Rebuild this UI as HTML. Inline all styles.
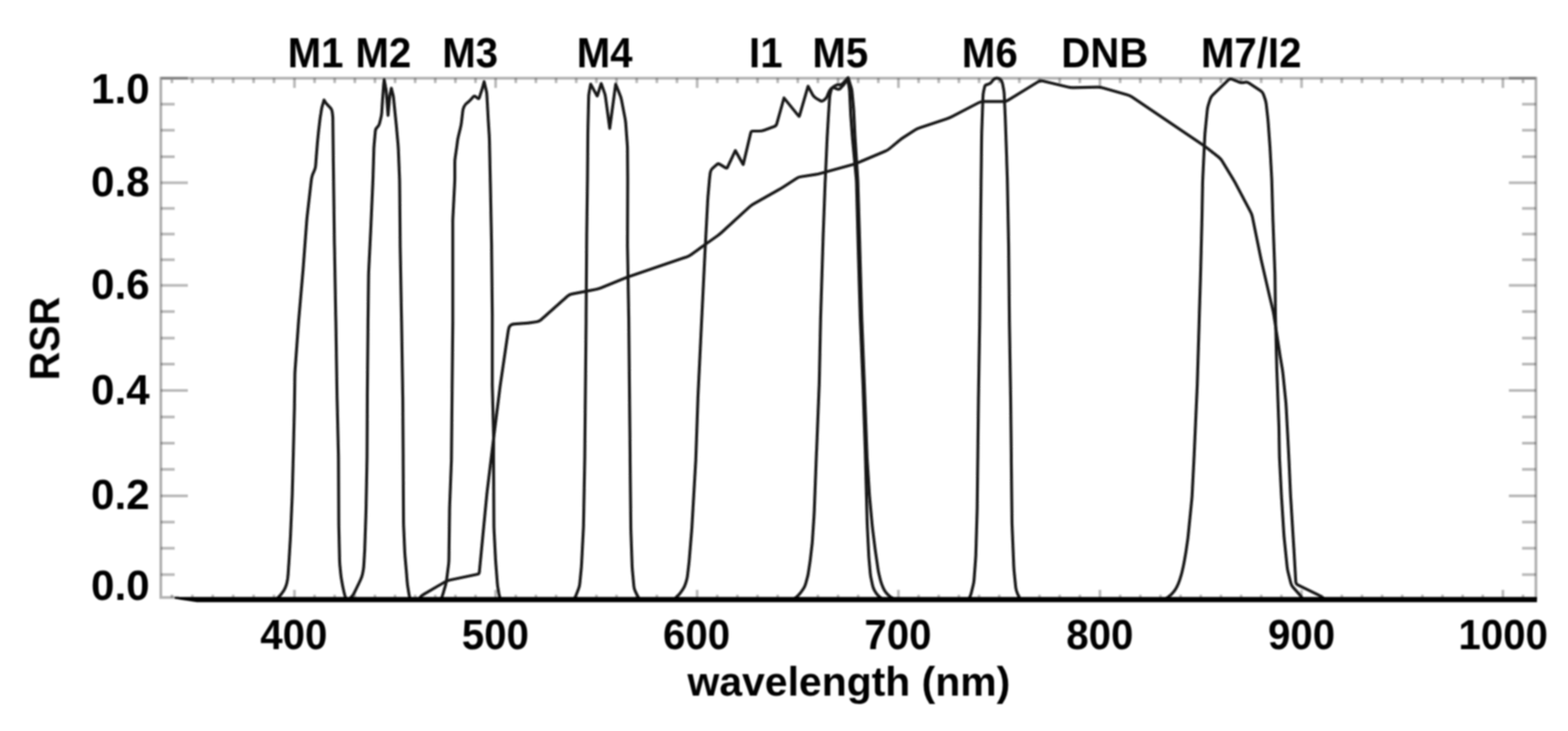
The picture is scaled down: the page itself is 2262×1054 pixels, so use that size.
<!DOCTYPE html>
<html lang="en"><head><meta charset="utf-8"><title>RSR</title>
<style>
html,body{margin:0;padding:0;background:#fff;}
body{width:2262px;height:1054px;overflow:hidden;}
svg{display:block;}
text{font-family:"Liberation Sans","DejaVu Sans",sans-serif;font-weight:bold;font-size:58px;fill:#000;}
.c{fill:none;stroke:#141414;stroke-width:4.2;stroke-linejoin:round;stroke-linecap:round;}
.f{fill:none;stroke:rgba(0,0,0,0.30);stroke-width:4;}
.t{fill:none;stroke:rgba(0,0,0,0.27);stroke-width:4;}
.b{fill:none;stroke:#000;stroke-width:7.4;}
</style></head><body>
<svg width="2262" height="1054" viewBox="0 0 2262 1054">
<defs><filter id="bl" x="-2%" y="-2%" width="104%" height="104%" filterUnits="userSpaceOnUse" primitiveUnits="userSpaceOnUse"><feGaussianBlur stdDeviation="1.3"/></filter></defs>
<rect width="2262" height="1054" fill="#fff"/>
<g filter="url(#bl)">
<path class="f" d="M258.0 861.5 H232.0 V112.8 H2215.7 V864.5"/>
<path class="t" d="M248.0 112.8 v7.0 M248.0 861.5 v-4.0 M277.5 112.8 v7.0 M277.5 861.5 v-4.0 M306.9 112.8 v7.0 M306.9 861.5 v-4.0 M336.4 112.8 v7.0 M336.4 861.5 v-4.0 M365.9 112.8 v7.0 M365.9 861.5 v-4.0 M395.3 112.8 v7.0 M395.3 861.5 v-4.0 M424.8 112.8 v14.0 M424.8 861.5 v-11.0 M453.8 112.8 v7.0 M453.8 861.5 v-4.0 M482.8 112.8 v7.0 M482.8 861.5 v-4.0 M511.9 112.8 v7.0 M511.9 861.5 v-4.0 M540.9 112.8 v7.0 M540.9 861.5 v-4.0 M569.9 112.8 v7.0 M569.9 861.5 v-4.0 M598.9 112.8 v7.0 M598.9 861.5 v-4.0 M627.9 112.8 v7.0 M627.9 861.5 v-4.0 M657.0 112.8 v7.0 M657.0 861.5 v-4.0 M686.0 112.8 v7.0 M686.0 861.5 v-4.0 M715.0 112.8 v14.0 M715.0 861.5 v-11.0 M744.1 112.8 v7.0 M744.1 861.5 v-4.0 M773.1 112.8 v7.0 M773.1 861.5 v-4.0 M802.2 112.8 v7.0 M802.2 861.5 v-4.0 M831.3 112.8 v7.0 M831.3 861.5 v-4.0 M860.4 112.8 v7.0 M860.4 861.5 v-4.0 M889.4 112.8 v7.0 M889.4 861.5 v-4.0 M918.5 112.8 v7.0 M918.5 861.5 v-4.0 M947.6 112.8 v7.0 M947.6 861.5 v-4.0 M976.6 112.8 v7.0 M976.6 861.5 v-4.0 M1005.7 112.8 v14.0 M1005.7 861.5 v-11.0 M1034.7 112.8 v7.0 M1034.7 861.5 v-4.0 M1063.8 112.8 v7.0 M1063.8 861.5 v-4.0 M1092.8 112.8 v7.0 M1092.8 861.5 v-4.0 M1121.9 112.8 v7.0 M1121.9 861.5 v-4.0 M1150.9 112.8 v7.0 M1150.9 861.5 v-4.0 M1179.9 112.8 v7.0 M1179.9 861.5 v-4.0 M1209.0 112.8 v7.0 M1209.0 861.5 v-4.0 M1238.0 112.8 v7.0 M1238.0 861.5 v-4.0 M1267.1 112.8 v7.0 M1267.1 861.5 v-4.0 M1296.1 112.8 v14.0 M1296.1 861.5 v-11.0 M1325.2 112.8 v7.0 M1325.2 861.5 v-4.0 M1354.2 112.8 v7.0 M1354.2 861.5 v-4.0 M1383.3 112.8 v7.0 M1383.3 861.5 v-4.0 M1412.4 112.8 v7.0 M1412.4 861.5 v-4.0 M1441.5 112.8 v7.0 M1441.5 861.5 v-4.0 M1470.5 112.8 v7.0 M1470.5 861.5 v-4.0 M1499.6 112.8 v7.0 M1499.6 861.5 v-4.0 M1528.7 112.8 v7.0 M1528.7 861.5 v-4.0 M1557.8 112.8 v7.0 M1557.8 861.5 v-4.0 M1586.8 112.8 v14.0 M1586.8 861.5 v-11.0 M1615.9 112.8 v7.0 M1615.9 861.5 v-4.0 M1645.0 112.8 v7.0 M1645.0 861.5 v-4.0 M1674.1 112.8 v7.0 M1674.1 861.5 v-4.0 M1703.1 112.8 v7.0 M1703.1 861.5 v-4.0 M1732.2 112.8 v7.0 M1732.2 861.5 v-4.0 M1761.3 112.8 v7.0 M1761.3 861.5 v-4.0 M1790.4 112.8 v7.0 M1790.4 861.5 v-4.0 M1819.4 112.8 v7.0 M1819.4 861.5 v-4.0 M1848.5 112.8 v7.0 M1848.5 861.5 v-4.0 M1877.6 112.8 v14.0 M1877.6 861.5 v-11.0 M1906.6 112.8 v7.0 M1906.6 861.5 v-4.0 M1935.7 112.8 v7.0 M1935.7 861.5 v-4.0 M1964.8 112.8 v7.0 M1964.8 861.5 v-4.0 M1993.8 112.8 v7.0 M1993.8 861.5 v-4.0 M2022.8 112.8 v7.0 M2022.8 861.5 v-4.0 M2051.9 112.8 v7.0 M2051.9 861.5 v-4.0 M2080.9 112.8 v7.0 M2080.9 861.5 v-4.0 M2110.0 112.8 v7.0 M2110.0 861.5 v-4.0 M2139.0 112.8 v7.0 M2139.0 861.5 v-4.0 M2168.1 112.8 v14.0 M2168.1 861.5 v-11.0 M2197.1 112.8 v7.0 M2197.1 861.5 v-4.0 M232.0 112.8 h39.0 M2215.7 112.8 h-39.0 M232.0 150.3 h20.0 M2215.7 150.3 h-20.0 M232.0 187.8 h20.0 M2215.7 187.8 h-20.0 M232.0 226.1 h20.0 M2215.7 226.1 h-20.0 M232.0 263.5 h39.0 M2215.7 263.5 h-39.0 M232.0 300.5 h20.0 M2215.7 300.5 h-20.0 M232.0 337.5 h20.0 M2215.7 337.5 h-20.0 M232.0 374.4 h20.0 M2215.7 374.4 h-20.0 M232.0 411.4 h39.0 M2215.7 411.4 h-39.0 M232.0 449.3 h20.0 M2215.7 449.3 h-20.0 M232.0 487.5 h20.0 M2215.7 487.5 h-20.0 M232.0 525.1 h20.0 M2215.7 525.1 h-20.0 M232.0 563.0 h39.0 M2215.7 563.0 h-39.0 M232.0 601.2 h20.0 M2215.7 601.2 h-20.0 M232.0 638.9 h20.0 M2215.7 638.9 h-20.0 M232.0 676.7 h20.0 M2215.7 676.7 h-20.0 M232.0 715.1 h39.0 M2215.7 715.1 h-39.0 M232.0 752.7 h20.0 M2215.7 752.7 h-20.0 M232.0 790.4 h20.0 M2215.7 790.4 h-20.0 M232.0 828.4 h20.0 M2215.7 828.4 h-20.0"/>
<path class="c" d="M398.0 864.5 L400.0 862.8 Q402.0 861.0 404.2 858.5 L404.2 858.5 Q406.5 856.0 408.6 852.7 L408.9 852.3 Q411.0 849.0 412.4 845.3 L412.6 844.7 Q414.0 841.0 414.5 837.1 L415.0 834.0 Q415.5 830.0 415.8 826.0 L416.2 819.0 Q416.5 815.0 416.8 811.0 L417.2 804.0 Q417.5 800.0 417.7 796.0 L418.8 778.0 Q419.0 774.0 419.2 770.0 L421.3 721.0 Q421.5 717.0 421.6 713.0 L422.9 664.0 Q423.0 660.0 423.1 656.0 L424.5 597.0 Q424.6 593.0 424.7 589.0 L425.4 540.0 Q425.5 536.0 425.8 532.0 L430.7 464.0 Q431.0 460.0 431.4 456.0 L436.5 397.0 Q436.9 393.0 437.2 389.0 L442.3 321.0 Q442.6 317.0 443.0 313.0 L448.6 264.0 Q449.0 260.0 449.7 256.1 L449.8 255.9 Q450.5 252.0 452.3 248.5 L453.3 246.4 Q455.0 243.0 455.3 239.2 L455.7 234.0 Q456.0 230.0 456.3 226.0 L457.6 209.9 Q457.9 205.9 458.3 201.9 L459.4 190.9 Q459.8 186.9 460.3 182.9 L461.6 172.0 Q462.1 168.0 462.8 164.1 L463.8 157.6 Q464.5 153.7 465.8 150.0 L467.4 144.2 L469.8 148.2 Q472.1 150.9 474.9 153.7 L476.2 155.0 Q478.7 157.5 479.2 161.1 L479.6 164.1 Q480.2 168.0 480.2 172.0 L480.8 227.0 Q480.8 231.0 480.9 235.0 L482.4 351.0 Q482.5 355.0 482.6 359.0 L484.3 455.0 Q484.4 459.0 484.5 463.0 L486.2 570.0 Q486.3 574.0 486.4 578.0 L488.2 656.0 Q488.3 660.0 488.3 664.0 L488.7 751.0 Q488.7 755.0 488.8 759.0 L489.9 808.0 Q490.0 812.0 490.4 816.0 L491.6 828.0 Q492.0 832.0 492.7 835.9 L493.8 842.1 Q494.5 846.0 495.4 849.9 L496.1 853.1 Q497.0 857.0 498.2 860.8 L499.5 864.5"/>
<path class="c" d="M503.0 864.5 L506.2 861.6 Q509.0 859.0 510.7 855.5 L514.8 847.1 Q516.6 843.5 518.3 839.9 L520.7 834.6 Q522.3 831.0 523.1 827.1 L523.7 823.9 Q524.5 820.0 524.8 816.0 L525.8 799.0 Q526.1 795.0 526.2 791.0 L527.9 740.0 Q528.0 736.0 528.1 732.0 L529.4 664.0 Q529.5 660.0 529.5 656.0 L529.9 578.0 Q529.9 574.0 529.9 570.0 L530.9 464.0 Q530.9 460.0 531.0 456.0 L531.7 397.0 Q531.8 393.0 532.0 389.0 L534.4 340.0 Q534.6 336.0 534.8 332.0 L537.8 264.0 Q538.0 260.0 538.1 256.0 L539.3 216.0 Q539.4 212.0 539.8 208.0 L541.5 188.8 Q541.8 185.4 544.2 183.5 L544.2 183.5 Q546.6 181.6 547.5 178.1 L549.4 170.2 Q550.4 166.4 550.7 162.4 L552.0 142.0 Q552.3 138.0 552.6 134.0 L553.4 123.0 Q553.7 119.0 554.0 117.5 L554.2 114.8 L556.1 124.6 Q557.0 128.5 557.3 132.5 L559.8 166.4 Q559.8 166.4 559.8 166.4 L561.9 142.0 Q562.2 138.0 563.2 134.1 L564.6 127.2 L566.3 134.2 Q567.4 138.0 567.8 141.9 L568.9 153.0 Q569.3 157.0 569.7 161.0 L571.8 181.4 Q572.2 185.4 572.5 189.4 L574.2 208.0 Q574.5 212.0 574.7 216.0 L576.3 256.0 Q576.5 260.0 576.5 264.0 L577.3 351.0 Q577.3 355.0 577.4 359.0 L579.1 455.0 Q579.2 459.0 579.3 463.0 L581.0 570.0 Q581.1 574.0 581.1 578.0 L581.6 656.0 Q581.6 660.0 581.6 664.0 L582.1 751.0 Q582.1 755.0 582.3 759.0 L583.8 794.0 Q584.0 798.0 584.3 802.0 L586.5 827.0 Q586.8 831.0 587.1 835.0 L587.5 839.5 Q587.8 843.5 588.5 847.4 L589.9 856.1 Q590.6 860.0 591.3 862.2 L592.0 864.5"/>
<path class="c" d="M636.0 864.5 L637.0 862.2 Q638.0 860.0 639.1 856.2 L642.7 843.8 Q643.8 840.0 644.3 836.1 L647.1 814.0 Q647.6 810.0 647.6 806.0 L648.5 740.0 Q648.5 736.0 648.6 732.0 L651.2 664.0 Q651.3 660.0 651.3 656.0 L653.2 464.0 Q653.2 460.0 653.2 456.0 L653.2 321.0 Q653.2 317.0 653.4 313.0 L655.9 264.0 Q656.1 260.0 656.1 256.0 L656.1 235.0 Q656.1 231.0 656.7 227.1 L658.3 216.0 Q658.9 212.0 659.4 208.0 L659.9 204.0 Q660.4 200.0 661.4 196.1 L664.2 184.5 Q665.2 180.6 665.7 176.6 L667.5 160.9 Q668.0 157.0 669.5 153.7 L669.5 153.7 Q670.9 150.3 673.7 148.4 L673.7 148.4 Q676.5 146.5 679.1 143.6 L682.6 139.7 Q684.1 138.0 685.9 139.3 L689.6 141.9 Q690.8 142.7 691.3 141.3 L693.3 135.1 Q694.6 131.3 695.8 127.5 L698.4 117.7 L701.2 129.4 Q702.2 133.2 702.4 137.2 L703.8 162.4 Q704.0 166.4 704.2 170.4 L705.8 196.0 Q706.0 200.0 706.1 204.0 L707.2 256.0 Q707.3 260.0 707.4 264.0 L709.1 351.0 Q709.2 355.0 709.2 359.0 L710.2 455.0 Q710.2 459.0 710.2 463.0 L710.2 551.0 Q710.2 555.0 710.3 559.0 L712.0 627.0 Q712.1 631.0 712.1 635.0 L712.0 656.0 Q712.0 660.0 712.0 664.0 L712.5 756.0 Q712.5 760.0 712.7 764.0 L714.7 803.4 Q714.9 807.4 715.2 811.4 L717.5 841.4 Q717.8 845.4 718.6 849.3 L719.8 856.1 Q720.6 860.0 721.3 862.2 L722.0 864.5"/>
<path class="c" d="M604.0 864.5 L605.9 861.8 Q607.7 859.0 611.0 857.1 L630.8 845.5 Q634.3 843.5 637.8 841.5 L642.3 838.9 Q645.7 837.0 649.5 836.2 L688.7 828.0 Q691.2 827.5 691.5 824.9 L702.2 714.0 Q702.6 710.0 703.1 706.0 L711.6 636.0 Q712.1 632.0 712.6 628.0 L721.1 560.0 Q721.6 556.0 722.2 552.0 L732.9 478.9 Q733.5 475.0 734.2 472.6 L734.2 472.6 Q735.0 470.1 736.9 468.7 L736.9 468.7 Q738.8 467.3 742.5 467.1 L756.6 466.2 Q760.6 465.9 764.6 465.3 L774.1 464.0 Q777.7 463.5 780.4 461.1 L818.6 427.1 Q821.4 424.6 825.1 423.9 L842.1 420.6 Q846.0 419.8 849.9 419.1 L859.6 417.2 Q863.5 416.5 867.2 415.0 L901.5 401.0 Q905.2 399.5 909.0 398.2 L990.7 370.4 Q994.4 369.1 997.6 366.8 L1012.1 356.3 Q1015.3 353.9 1018.6 351.6 L1034.8 340.1 Q1038.1 337.8 1041.0 335.1 L1080.7 298.8 Q1083.6 296.1 1087.0 294.2 L1123.7 273.4 Q1127.2 271.4 1130.6 269.2 L1148.7 257.5 Q1151.9 255.4 1155.7 254.8 L1176.1 251.6 Q1180.0 251.0 1183.8 249.9 L1229.3 237.5 Q1233.1 236.5 1236.8 235.0 L1277.0 218.0 Q1280.6 216.5 1283.6 214.0 L1297.3 202.6 Q1300.4 200.0 1303.8 197.9 L1319.9 187.5 Q1323.2 185.4 1326.9 184.2 L1366.0 171.2 Q1369.8 170.0 1373.3 168.2 L1412.0 148.0 Q1415.3 146.3 1419.1 146.3 L1447.6 146.3 Q1451.3 146.3 1454.5 144.4 L1497.8 117.8 Q1500.7 116.0 1504.0 116.8 L1540.7 125.5 Q1544.5 126.4 1548.4 126.3 L1582.5 125.6 Q1586.4 125.5 1590.2 126.6 L1626.3 136.7 Q1630.1 137.8 1633.3 140.0 L1734.9 208.7 Q1738.2 210.9 1741.3 213.4 L1758.0 226.5 Q1761.0 228.9 1763.0 232.2 L1777.9 256.6 Q1780.0 260.0 1781.9 263.5 L1804.2 305.8 Q1806.0 309.3 1806.8 313.1 L1818.4 370.0 Q1819.2 373.9 1820.1 377.8 L1830.1 421.1 Q1831.0 425.0 1831.9 428.9 L1836.1 446.2 Q1837.0 450.1 1837.6 454.0 L1845.5 505.3 Q1846.1 509.3 1846.7 513.2 L1850.0 532.8 Q1850.6 536.7 1851.0 540.7 L1854.8 578.2 Q1855.2 582.2 1855.4 586.2 L1858.1 636.0 Q1858.3 640.0 1858.5 644.0 L1859.1 656.0 Q1859.3 660.0 1859.5 664.0 L1861.7 713.0 Q1861.9 717.0 1862.2 721.0 L1866.4 789.0 Q1866.7 793.0 1866.9 797.0 L1869.3 839.0 Q1869.5 842.0 1872.2 843.3 L1901.0 857.3 Q1904.6 859.0 1907.8 861.4 L1912.0 864.5"/>
<path class="c" d="M828.0 864.5 L829.1 862.2 Q830.3 860.0 831.8 856.3 L834.6 849.1 Q836.0 845.4 836.4 841.5 L838.4 821.0 Q838.8 817.0 839.0 813.0 L841.5 764.0 Q841.7 760.0 841.8 756.0 L843.5 664.0 Q843.6 660.0 843.6 656.0 L845.5 464.0 Q845.5 460.0 845.5 456.0 L846.4 340.0 Q846.4 336.0 846.5 332.0 L847.4 264.0 Q847.5 260.0 847.5 256.0 L848.0 197.0 Q848.0 193.0 848.1 189.0 L849.2 140.0 Q849.3 136.0 850.1 132.1 L852.1 121.3 L861.2 138.1 Q861.6 138.7 861.8 138.0 L867.3 120.4 L871.5 132.3 Q873.0 136.0 873.5 139.9 L879.6 185.1 Q879.6 185.2 879.6 185.1 L888.2 121.3 L894.1 136.1 Q895.7 139.7 896.5 143.6 L901.6 170.1 Q902.4 174.0 902.7 178.0 L904.9 208.0 Q905.2 212.0 905.2 216.0 L905.5 256.0 Q905.5 260.0 905.5 264.0 L905.2 351.0 Q905.2 355.0 905.3 359.0 L907.0 456.0 Q907.1 460.0 907.1 464.0 L909.0 656.0 Q909.0 660.0 909.0 664.0 L910.0 756.0 Q910.0 760.0 910.1 764.0 L911.8 813.0 Q911.9 817.0 912.2 821.0 L914.4 845.1 Q914.7 849.0 916.4 852.5 L918.6 857.0 Q920.4 860.6 921.7 862.5 L923.0 864.5"/>
<path class="c" d="M972.0 864.5 L974.6 862.2 Q977.3 860.0 979.8 856.9 L980.5 856.1 Q983.0 853.0 985.1 849.6 L985.9 848.3 Q988.0 845.0 989.1 841.2 L990.4 836.8 Q991.5 833.0 991.9 829.1 L994.0 811.0 Q994.4 807.0 994.7 803.0 L997.9 764.0 Q998.2 760.0 998.4 756.0 L1003.7 664.0 Q1003.9 660.0 1004.0 656.0 L1006.7 578.0 Q1006.8 574.0 1007.0 570.0 L1012.1 464.0 Q1012.3 460.0 1012.5 456.0 L1016.8 368.0 Q1017.0 364.0 1017.2 360.0 L1020.8 292.0 Q1021.0 288.0 1021.3 284.0 L1023.2 262.0 Q1023.5 258.0 1024.0 254.0 L1024.7 248.5 Q1025.2 245.0 1027.8 242.7 L1034.2 237.2 Q1036.2 235.5 1038.4 236.9 L1047.0 242.1 Q1048.5 243.1 1049.3 241.5 L1060.8 217.1 L1071.9 236.9 Q1072.2 237.4 1072.3 236.8 L1083.0 191.4 Q1083.6 189.0 1086.1 189.0 L1094.9 189.0 Q1098.8 189.0 1102.4 187.7 L1116.7 182.5 Q1119.7 181.4 1120.6 178.3 L1131.0 141.2 L1152.3 167.5 Q1152.9 168.2 1153.2 167.3 L1165.7 124.3 L1172.3 136.6 Q1174.2 139.8 1177.4 141.7 L1183.2 145.1 Q1185.6 146.5 1187.9 144.9 L1189.3 143.8 Q1192.3 141.7 1193.5 138.3 L1194.7 134.9 Q1196.0 131.3 1198.4 128.4 L1199.1 127.6 Q1200.8 125.6 1203.2 126.6 L1207.7 128.4 Q1210.3 129.4 1212.3 127.4 L1214.1 125.6 Q1216.9 122.8 1219.2 119.6 L1223.6 112.0 L1227.5 124.8 Q1228.8 128.5 1229.2 132.4 L1231.1 153.0 Q1231.5 157.0 1231.7 161.0 L1233.4 196.0 Q1233.6 200.0 1233.9 204.0 L1237.2 256.0 Q1237.5 260.0 1237.6 264.0 L1240.2 351.0 Q1240.3 355.0 1240.4 359.0 L1243.1 456.0 Q1243.2 460.0 1243.4 464.0 L1246.8 551.0 Q1247.0 555.0 1247.1 559.0 L1250.7 656.0 Q1250.8 660.0 1251.1 664.0 L1254.2 713.0 Q1254.5 717.0 1254.9 721.0 L1258.1 756.0 Q1258.5 760.0 1259.0 764.0 L1262.1 789.0 Q1262.6 793.0 1263.2 797.0 L1266.7 821.1 Q1267.3 825.0 1268.3 828.9 L1270.0 836.1 Q1271.0 840.0 1272.5 843.7 L1274.0 847.4 Q1275.5 851.0 1277.9 854.1 L1278.6 854.9 Q1281.0 858.0 1284.0 860.2 L1284.0 860.2 Q1287.0 862.5 1289.5 863.5 L1292.0 864.5"/>
<path class="c" d="M1143.0 864.5 L1145.5 863.2 Q1148.0 862.0 1150.8 859.2 L1152.2 857.8 Q1155.0 855.0 1157.1 851.7 L1159.3 848.3 Q1161.4 845.0 1162.4 841.2 L1164.4 833.8 Q1165.5 830.0 1166.1 826.1 L1168.4 811.0 Q1169.0 807.0 1169.4 803.0 L1171.6 784.0 Q1172.0 780.0 1172.2 776.0 L1174.3 744.0 Q1174.5 740.0 1174.7 736.0 L1177.8 654.0 Q1178.0 650.0 1178.2 646.0 L1181.6 559.0 Q1181.8 555.0 1181.9 551.0 L1183.7 464.0 Q1183.8 460.0 1183.9 456.0 L1187.5 340.0 Q1187.6 336.0 1187.8 332.0 L1190.3 264.0 Q1190.5 260.0 1190.7 256.0 L1193.0 204.0 Q1193.2 200.0 1193.4 196.0 L1194.9 170.4 Q1195.1 166.4 1195.4 162.4 L1196.7 142.0 Q1197.0 138.0 1197.9 134.1 L1199.0 129.9 Q1199.8 126.6 1202.7 124.8 L1204.5 123.7 Q1207.4 121.8 1210.2 122.3 L1210.2 122.3 Q1213.1 122.8 1215.5 120.6 L1222.6 112.9 L1224.7 124.6 Q1225.5 128.5 1225.7 132.5 L1227.1 162.4 Q1227.3 166.4 1227.6 170.4 L1229.5 196.0 Q1229.8 200.0 1230.2 204.0 L1235.1 256.0 Q1235.5 260.0 1235.6 264.0 L1237.9 351.0 Q1238.0 355.0 1238.1 359.0 L1240.9 456.0 Q1241.0 460.0 1241.2 464.0 L1244.8 551.0 Q1245.0 555.0 1245.1 559.0 L1248.4 656.0 Q1248.5 660.0 1248.6 664.0 L1250.9 751.0 Q1251.0 755.0 1251.2 759.0 L1253.3 801.0 Q1253.5 805.0 1253.9 809.0 L1255.5 827.0 Q1255.9 831.0 1256.8 834.9 L1258.8 844.2 Q1259.7 848.0 1261.6 851.5 L1262.2 852.6 Q1264.0 856.0 1266.6 858.5 L1266.6 858.5 Q1269.2 861.0 1271.6 862.8 L1274.0 864.5"/>
<path class="c" d="M1397.0 864.5 L1398.5 861.8 Q1400.1 859.0 1401.1 855.2 L1403.9 843.8 Q1404.9 840.0 1405.2 836.0 L1407.4 806.0 Q1407.7 802.0 1407.8 798.0 L1409.5 740.0 Q1409.6 736.0 1409.7 732.0 L1410.5 664.0 Q1410.6 660.0 1410.6 656.0 L1411.5 578.0 Q1411.5 574.0 1411.6 570.0 L1413.3 464.0 Q1413.4 460.0 1413.4 456.0 L1414.3 359.0 Q1414.3 355.0 1414.3 351.0 L1415.3 264.0 Q1415.3 260.0 1415.4 256.0 L1416.1 197.0 Q1416.2 193.0 1416.3 189.0 L1418.0 140.0 Q1418.1 136.0 1418.9 132.1 L1420.4 125.4 Q1421.0 122.6 1423.8 121.9 L1425.2 121.6 Q1428.6 120.7 1430.7 117.9 L1432.3 115.8 Q1434.3 113.1 1437.6 112.7 L1437.7 112.6 Q1440.9 112.2 1443.1 114.5 L1443.2 114.6 Q1445.6 117.0 1446.3 120.6 L1447.7 128.1 Q1448.5 132.0 1448.7 136.0 L1450.2 170.0 Q1450.4 174.0 1450.5 178.0 L1452.2 227.0 Q1452.3 231.0 1452.4 235.0 L1453.1 256.0 Q1453.2 260.0 1453.3 264.0 L1455.0 351.0 Q1455.1 355.0 1455.1 359.0 L1456.1 456.0 Q1456.1 460.0 1456.2 464.0 L1457.9 570.0 Q1458.0 574.0 1458.0 578.0 L1458.9 656.0 Q1458.9 660.0 1458.9 664.0 L1459.9 751.0 Q1459.9 755.0 1460.1 759.0 L1462.5 817.0 Q1462.7 821.0 1463.1 825.0 L1465.2 846.1 Q1465.6 850.0 1467.0 853.7 L1468.0 856.3 Q1469.4 860.0 1470.7 862.2 L1472.0 864.5"/>
<path class="c" d="M1679.0 864.5 L1682.6 862.5 Q1686.0 860.5 1688.9 857.8 L1689.1 857.7 Q1692.0 855.0 1694.3 851.8 L1694.7 851.2 Q1697.0 848.0 1698.6 844.4 L1699.4 842.6 Q1701.0 839.0 1702.2 835.2 L1703.8 829.8 Q1705.0 826.0 1705.8 822.1 L1707.2 815.9 Q1708.0 812.0 1708.7 808.1 L1710.3 798.9 Q1711.0 795.0 1711.5 791.0 L1713.4 778.0 Q1713.9 774.0 1714.3 770.0 L1719.2 721.0 Q1719.6 717.0 1719.8 713.0 L1722.3 664.0 Q1722.5 660.0 1722.7 656.0 L1727.0 559.0 Q1727.2 555.0 1727.3 551.0 L1729.9 464.0 Q1730.0 460.0 1730.1 456.0 L1731.9 397.0 Q1732.0 393.0 1732.1 389.0 L1733.8 321.0 Q1733.9 317.0 1734.0 313.0 L1734.9 264.0 Q1735.0 260.0 1735.2 256.0 L1738.0 197.0 Q1738.2 193.0 1738.6 189.0 L1741.6 158.9 Q1742.0 155.0 1743.2 151.2 L1745.7 143.3 Q1746.8 139.7 1749.5 137.1 L1772.3 115.1 Q1774.3 113.1 1776.9 114.1 L1787.9 118.5 Q1791.3 119.8 1794.8 118.9 L1795.7 118.7 Q1798.9 117.9 1801.7 119.8 L1818.7 131.1 Q1821.7 133.1 1822.8 136.5 L1825.2 143.5 Q1826.4 147.3 1826.8 151.2 L1828.9 170.0 Q1829.3 174.0 1829.6 178.0 L1831.8 208.0 Q1832.1 212.0 1832.3 216.0 L1834.5 256.0 Q1834.7 260.0 1834.8 264.0 L1836.2 313.0 Q1836.3 317.0 1836.5 321.0 L1839.0 389.0 Q1839.2 393.0 1839.3 397.0 L1840.0 456.0 Q1840.1 460.0 1840.2 464.0 L1841.9 532.0 Q1842.0 536.0 1842.2 540.0 L1844.7 608.0 Q1844.9 612.0 1845.0 616.0 L1845.7 656.0 Q1845.8 660.0 1846.0 664.0 L1848.5 713.0 Q1848.7 717.0 1849.0 721.0 L1852.1 770.0 Q1852.4 774.0 1852.8 778.0 L1856.8 817.0 Q1857.2 821.0 1858.2 824.9 L1862.0 840.3 Q1862.9 844.0 1865.4 846.8 L1873.6 856.0 Q1876.2 859.0 1878.1 861.8 L1880.0 864.5"/>
<path fill="#000" d="M252 860.8 L2217.2 860.8 L2217.2 868.2 L284 868.2 L262 865.0 L252 863.3 Z"/>
<text transform="translate(415.0 97.3) scale(1 1.06)">M1</text>
<text transform="translate(512.7 97.3) scale(1 1.06)">M2</text>
<text transform="translate(638.0 97.3) scale(1 1.06)">M3</text>
<text transform="translate(832.0 97.3) scale(1 1.06)">M4</text>
<text transform="translate(1080.6 97.3) scale(1 1.06)">I1</text>
<text transform="translate(1172.0 97.3) scale(1 1.06)">M5</text>
<text transform="translate(1387.6 97.3) scale(1 1.06)">M6</text>
<text transform="translate(1531.0 97.3) scale(1 1.06)">DNB</text>
<text transform="translate(1732.4 97.3) scale(1 1.06)">M7/I2</text>
<text transform="translate(216.0 149.0) scale(1.05 1.04)" text-anchor="end">1.0</text>
<text transform="translate(216.0 283.0) scale(1.05 1.04)" text-anchor="end">0.8</text>
<text transform="translate(216.0 430.5) scale(1.05 1.04)" text-anchor="end">0.6</text>
<text transform="translate(216.0 582.7) scale(1.05 1.04)" text-anchor="end">0.4</text>
<text transform="translate(216.0 734.0) scale(1.05 1.04)" text-anchor="end">0.2</text>
<text transform="translate(216.0 864.5) scale(1.05 1.04)" text-anchor="end">0.0</text>
<text transform="translate(423.9 935.8) scale(1 1.04)" text-anchor="middle">400</text>
<text transform="translate(714.5 935.8) scale(1 1.04)" text-anchor="middle">500</text>
<text transform="translate(1004.9 935.8) scale(1 1.04)" text-anchor="middle">600</text>
<text transform="translate(1295.4 935.8) scale(1 1.04)" text-anchor="middle">700</text>
<text transform="translate(1586.5 935.8) scale(1 1.04)" text-anchor="middle">800</text>
<text transform="translate(1877.6 935.8) scale(1 1.04)" text-anchor="middle">900</text>
<text transform="translate(2168.6 935.8) scale(1 1.04)" text-anchor="middle">1000</text>
<text transform="translate(1224.6 1003.2)" text-anchor="middle" style="font-size:59px;">wavelength (nm)</text>
<text transform="translate(85.5 488.1) rotate(-90) scale(0.985 1.06)" text-anchor="middle">RSR</text>
</g>
</svg>
</body></html>
